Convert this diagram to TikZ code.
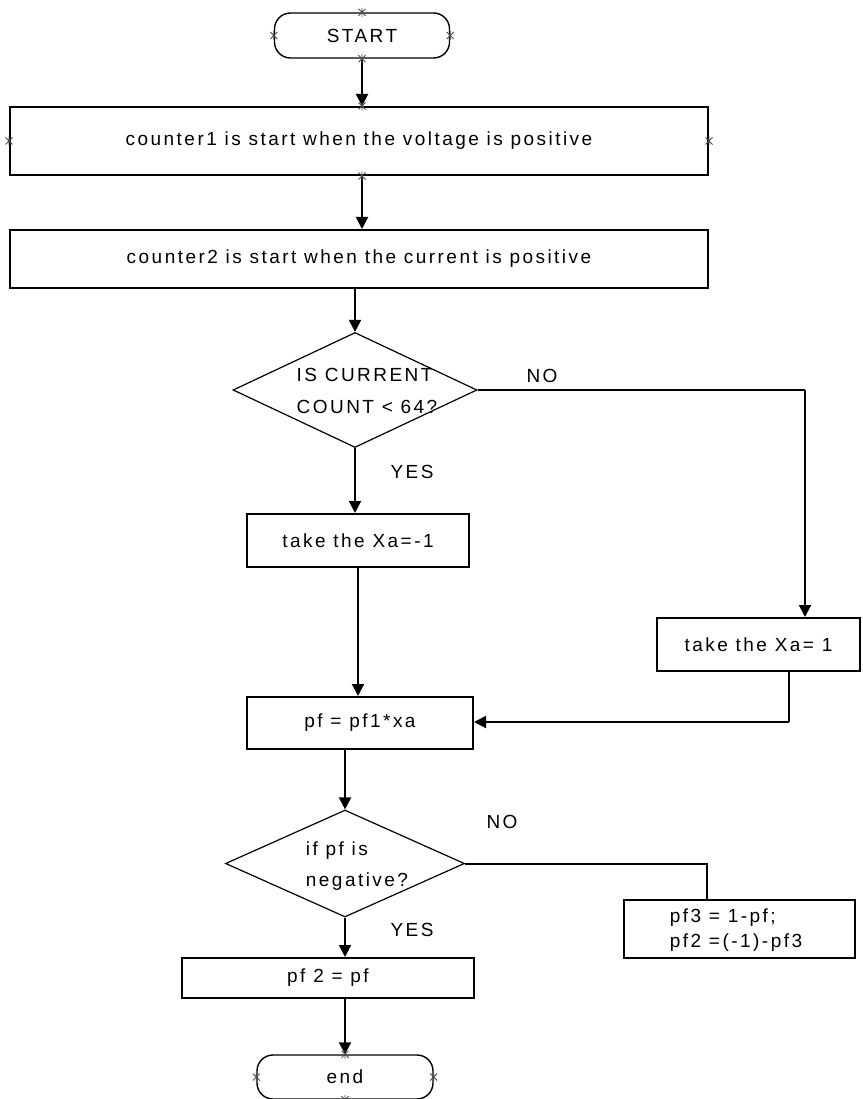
\documentclass[tikz,border=0pt]{standalone}
\usepackage{fontspec}
\setmainfont{Liberation Sans}[LetterSpace=13]
\usetikzlibrary{arrows.meta,shapes.geometric}
\newcommand\fz{\fontsize{19pt}{23pt}\selectfont}
\begin{document}
\begin{tikzpicture}[x=1pt,y=-1pt,
  every node/.style={font=\fz, inner sep=0pt},
  stepbox/.style={draw, rectangle, line width=2pt},
  term/.style={draw, rectangle, rounded corners=16pt, line width=1.4pt},
  decision/.style={draw, diamond, line width=1.2pt},
  flow/.style={line width=2pt, -{Triangle[length=12pt,width=12pt]}},
  plain/.style={line width=2pt},
  hdl/.pic={\draw[line width=0.8pt, black!70] (-3.5,-3.5)--(3.5,3.5) (-3.5,3.5)--(3.5,-3.5) (0,-4.5)--(0,4.5);}
]
\useasboundingbox (0,0) rectangle (862,1099);

% process boxes and terminals
\node[term, minimum width=175pt, minimum height=45pt] (start) at (362,35.5) {START};
\node[stepbox, minimum width=698pt, minimum height=68pt] (b1) at (359,141)
  {counter1 is start when the voltage is positive};
\node[stepbox, minimum width=698pt, minimum height=58pt] (b2) at (359,259)
  {counter2 is start when the current is positive};

\node[decision, minimum width=244pt, minimum height=115pt] (d1) at (355,390) {};
\node[align=left, font=\fontsize{19pt}{32pt}\selectfont] (d1txt) at (367,391) {IS CURRENT\\COUNT < 64?};

\node[stepbox, minimum width=222pt, minimum height=53pt] (xa) at (358,540.5) {take the Xa=-1};
\node[stepbox, minimum width=203pt, minimum height=53pt] (xb) at (758.5,644.5) {take the Xa= 1};
\node[stepbox, minimum width=226pt, minimum height=52pt] (pf) at (360,723) {pf = pf1*xa};

\node[decision, minimum width=239pt, minimum height=107pt] (d2) at (345,863.5) {};
\node[align=left, font=\fontsize{19pt}{31pt}\selectfont] (d2txt) at (357,866) {if pf is\\negative?};

\node[stepbox, minimum width=231pt, minimum height=58pt] (pf3) at (739.5,929) {};
\node[align=left, font=\fontsize{19pt}{25pt}\selectfont] (pf3txt) at (736,930) {pf3 = 1-pf;\\pf2 =(-1)-pf3};
\node[stepbox, minimum width=292pt, minimum height=40pt] (pf2) at (328,978) {pf 2 = pf};
\node[term, minimum width=176pt, minimum height=44pt] (end) at (345,1077) {end};

% branch labels
\node (no1) at (542,376) {NO};
\node (yes1) at (412,472) {YES};
\node (no2) at (502,822) {NO};
\node (yes2) at (412,930) {YES};

% routing points
\coordinate (r1) at (805,390);
\coordinate (r2) at (789,722);
\coordinate (r3) at (707,863.5);

% connectors
\draw[flow] (start.south) -- (start.south |- b1.north);
\draw[flow] ([xshift=3pt]b1.south) -- ([xshift=3pt]b2.north);
\draw[flow] (b2.south -| d1.north) -- (d1.north);
\draw[plain] (d1.east) -- (r1);
\draw[flow] (r1) -- (r1 |- xb.north);
\draw[flow] (d1.south) -- (d1.south |- xa.north);
\draw[flow] (xa.south) -- (xa.south |- pf.north);
\draw[plain] (r2 |- xb.south) -- (r2);
\draw[flow] (r2) -- (r2 -| pf.east);
\draw[flow] (pf.south -| d2.north) -- (d2.north);
\draw[plain] (d2.east) -- (r3) -- (r3 |- pf3.north);
\draw[flow] (d2.south) -- (d2.south |- pf2.north);
\draw[flow] (pf2.south -| end.north) -- (end.north);

% selection handles
\foreach \a in {north,south,east,west}{
  \pic at (start.\a) {hdl};
  \pic at (end.\a) {hdl};
}
\pic at ([xshift=3pt]b1.north) {hdl};
\pic at ([xshift=3pt]b1.south) {hdl};
\pic at (b1.east) {hdl};
\pic at (b1.west) {hdl};
\end{tikzpicture}
\end{document}
